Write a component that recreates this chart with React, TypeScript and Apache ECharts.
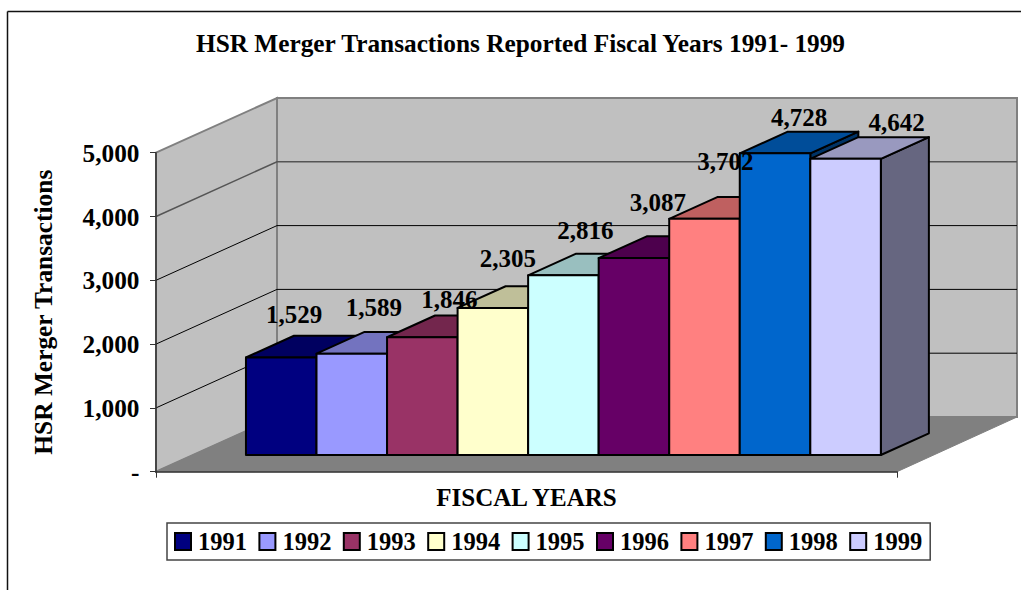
import React, { useEffect, useRef } from "react";
import * as echarts from "echarts";

const years = ["1991", "1992", "1993", "1994", "1995", "1996", "1997", "1998", "1999"];
const transactions = [1529, 1589, 1846, 2305, 2816, 3087, 3702, 4728, 4642];
const barColors = ["#000080", "#9999FF", "#993366", "#FFFFCC", "#CCFFFF", "#660066", "#FF8080", "#0066CC", "#CCCCFF"];
const yTicks = [1000, 2000, 3000, 4000];
const category = [""];

// hand placement of the value labels relative to each bar's front top centre
const labelNudgeX = [13, 22, 27, 15, 22, 24, 21, 24, 51];
const labelNudgeY = [-43, -46, -38, -49, -45, -56, -57, -36, -36];

const FONT = '"Liberation Serif", "Times New Roman", serif';
const WALL_DX = 121;
const WALL_DY = -54.7;
const BAR_START = 0.305;
const BAR_DEPTH = 0.397;
const BAR_WIDTH_FRAC = 0.0952;

function shade(hex: string, f: number) {
  const n = parseInt(hex.slice(1), 16);
  const c = [(n >> 16) & 255, (n >> 8) & 255, n & 255].map((v) => Math.round(v * f));
  return `rgb(${c[0]},${c[1]},${c[2]})`;
}

function renderWalls(params: any, api: any) {
  const g = params.coordSys;
  const left = g.x;
  const right = g.x + g.width;
  const y0 = api.coord([0, 0])[1];
  const y5 = api.coord([0, 5000])[1];
  const border = { stroke: "#808080", lineWidth: 2 };
  const children: any[] = [
    {
      type: "polygon",
      shape: { points: [[left, y5], [left + WALL_DX, y5 + WALL_DY], [left + WALL_DX, y0 + WALL_DY], [left, y0]] },
      style: { fill: "#C0C0C0", ...border },
    },
    {
      type: "polygon",
      shape: { points: [[left + WALL_DX, y5 + WALL_DY], [right + WALL_DX - 1, y5 + WALL_DY], [right + WALL_DX - 1, y0 + WALL_DY], [left + WALL_DX, y0 + WALL_DY]] },
      style: { fill: "#C0C0C0", ...border },
    },
    {
      type: "polygon",
      shape: { points: [[left, y0], [left + WALL_DX, y0 + WALL_DY], [right + WALL_DX - 1, y0 + WALL_DY], [right, y0]] },
      style: { fill: "#808080", stroke: "#808080", lineWidth: 1 },
    },
  ];
  yTicks.forEach((t) => {
    const y = api.coord([0, t])[1];
    children.push({
      type: "polyline",
      shape: { points: [[left, y], [left + WALL_DX, y + WALL_DY], [right + WALL_DX - 1, y + WALL_DY]] },
      style: { fill: "none", stroke: t === 4000 ? "#555555" : "#000000", lineWidth: t === 4000 ? 1.5 : 1 },
    });
  });
  return { type: "group", children };
}

function renderBar(index: number) {
  return (params: any, api: any) => {
    const g = params.coordSys;
    const value = api.value(1);
    const center = api.coord([0, 0])[0];
    const w = g.width * BAR_WIDTH_FRAC;
    const dx0 = WALL_DX * BAR_START;
    const dy0 = WALL_DY * BAR_START;
    const dx = WALL_DX * BAR_DEPTH;
    const dy = WALL_DY * BAR_DEPTH;
    const x1 = center + (index - 4.5) * w + dx0;
    const x2 = x1 + w;
    const yb = api.coord([0, 0])[1] + dy0;
    const yt = api.coord([0, value])[1] + dy0;
    const color = barColors[index];
    const line = { stroke: "#000000", lineWidth: 2, lineJoin: "round" };
    return {
      type: "group",
      children: [
        {
          type: "polygon",
          shape: { points: [[x2, yt], [x2 + dx, yt + dy], [x2 + dx, yb + dy], [x2, yb]] },
          style: { fill: shade(color, 0.5), ...line },
        },
        {
          type: "polygon",
          shape: { points: [[x1, yt], [x1 + dx, yt + dy], [x2 + dx, yt + dy], [x2, yt]] },
          style: { fill: shade(color, 0.75), ...line },
        },
        {
          type: "rect",
          shape: { x: x1, y: yt, width: w, height: yb - yt },
          style: { fill: color, ...line },
        },
        {
          type: "text",
          z2: 100,
          x: x1 + w / 2 + labelNudgeX[index],
          y: yt + labelNudgeY[index],
          style: {
            text: value.toLocaleString("en-US"),
            fill: "#000000",
            font: `bold 25px ${FONT}`,
            align: "center",
            verticalAlign: "middle",
          },
        },
      ],
    };
  };
}

export default function App() {
  const ref = useRef<HTMLDivElement>(null);
  useEffect(() => {
    document.body.style.margin = "0";
    const chart = echarts.init(ref.current!, null, { renderer: "svg" });
    chart.setOption({
      animation: false,
      backgroundColor: "#ffffff",
      title: {
        text: "HSR Merger Transactions Reported Fiscal Years 1991- 1999",
        left: 515.5,
        top: 25,
        textAlign: "center",
        textStyle: { fontFamily: FONT, fontWeight: "bold", fontSize: 25.3, color: "#000" },
      },
      grid: { left: 156, top: 152.7, width: 741, height: 319 },
      xAxis: {
        type: "category",
        data: category,
        z: 1,
        name: "FISCAL YEARS",
        nameLocation: "middle",
        nameGap: 13,
        nameTextStyle: { fontFamily: FONT, fontWeight: "bold", fontSize: 25, color: "#000" },
        axisLine: { lineStyle: { color: "#333333", width: 1.5 } },
        axisTick: { show: true, length: 6, lineStyle: { color: "#333333" } },
        axisLabel: { show: false },
      },
      yAxis: {
        type: "value",
        min: 0,
        max: 5000,
        interval: 1000,
        z: 1,
        name: "HSR Merger Transactions",
        nameLocation: "middle",
        nameGap: 101,
        nameTextStyle: { fontFamily: FONT, fontWeight: "bold", fontSize: 25.4, color: "#000" },
        splitLine: { show: false },
        axisLine: { show: true, lineStyle: { color: "#333333", width: 1.5 } },
        axisTick: { show: true, length: 6, lineStyle: { color: "#333333" } },
        axisLabel: {
          margin: 16.5,
          fontFamily: FONT,
          fontWeight: "bold",
          fontSize: 25.3,
          color: "#000",
          formatter: (v: number) => (v === 0 ? "-" : v.toLocaleString("en-US")),
        },
      },
      legend: {
        left: 167,
        top: 523,
        padding: [6, 8, 6, 7],
        itemWidth: 16,
        itemHeight: 17,
        itemGap: 11.4,
        selectedMode: false,
        borderColor: "#444444",
        borderWidth: 1.5,
        backgroundColor: "#ffffff",
        textStyle: { fontFamily: FONT, fontWeight: "bold", fontSize: 24.5, color: "#000", padding: [0, 0, 0, 2] },
        data: years.map((name, i) => ({
          name,
          icon: "rect",
          itemStyle: { color: barColors[i], borderColor: "#000", borderWidth: 2 },
        })),
      },
      graphic: [
        { type: "line", shape: { x1: 7.5, y1: 11.5, x2: 1021, y2: 11.5 }, style: { stroke: "#111", lineWidth: 1.5 } },
        { type: "line", shape: { x1: 7.5, y1: 11.5, x2: 7.5, y2: 590 }, style: { stroke: "#111", lineWidth: 1.5 } },
      ],
      series: [
        { type: "custom", name: "walls", z: 0, silent: true, data: [[0, 0]], encode: { x: 0, y: 1 }, renderItem: renderWalls },
        ...years.map((name, i) => ({
          type: "custom",
          name,
          z: 2,
          itemStyle: { color: barColors[i] },
          data: [[0, transactions[i]]],
          encode: { x: 0, y: 1 },
          renderItem: renderBar(i),
        })),
      ],
    });
    return () => chart.dispose();
  }, []);
  return <div ref={ref} style={{ width: 1021, height: 590 }} />;
}
